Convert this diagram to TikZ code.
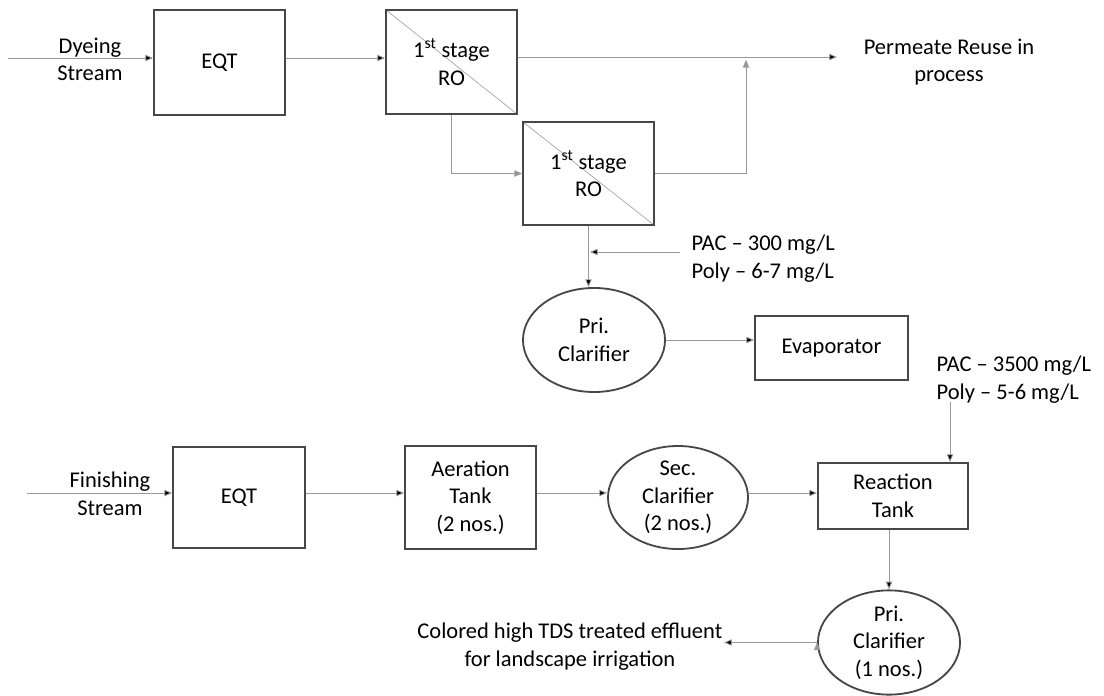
\documentclass[tikz,border=0pt]{standalone}
\usepackage{fontspec}
\setmainfont{Carlito}
\usetikzlibrary{arrows.meta,shapes.geometric}

\begin{document}
\begin{tikzpicture}[x=0.025cm,y=-0.025cm,->,>={Triangle[length=5.5pt,width=4.5pt]},
    every node/.style={font=\fontsize{16}{19.6}\selectfont,align=center,inner sep=1pt},
    unit/.style={rectangle,draw=black!72,line width=1.3pt},
    ro/.style={unit,path picture={\draw[-,black!35,line width=0.5pt] (path picture bounding box.north west) -- (path picture bounding box.south east);}},
    tank/.style={ellipse,draw=black!72,line width=1.3pt,inner sep=0pt},
    flow/.style={draw=black!40,line width=0.6pt}]
  \useasboundingbox (0,0) rectangle (1104,696);
  \node [unit,minimum width=3.275cm,minimum height=2.625cm] (eqt1) at (219.5,62.5) {EQT};
  \node [ro,minimum width=3.275cm,minimum height=2.6cm] (ro1) at (451.5,62) {1\textsuperscript{st} stage\\RO};
  \node [ro,minimum width=3.275cm,minimum height=2.575cm] (ro2) at (588.5,173.5) {1\textsuperscript{st} stage\\RO};
  \node [tank,minimum width=3.55cm,minimum height=2.6cm] (pri1) at (594,340) {Pri.\\Clarifier};
  \node [unit,minimum width=3.825cm,minimum height=1.6cm] (evap) at (831.5,348) {Evaporator};
  \node [unit,minimum width=3.3cm,minimum height=2.525cm] (eqt2) at (239,497.5) {EQT};
  \node [unit,minimum width=3.275cm,minimum height=2.575cm] (aer) at (470.5,497.5) {Aeration\\Tank\\(2 nos.)};
  \node [tank,minimum width=3.5cm,minimum height=2.525cm] (sec) at (678,497.5) {Sec.\\Clarifier\\(2 nos.)};
  \node [unit,minimum width=3.75cm,minimum height=1.65cm] (react) at (893,496) {Reaction\\Tank};
  \node [tank,minimum width=3.55cm,minimum height=2.525cm] (pri2) at (889,642.5) {Pri.\\Clarifier\\(1 nos.)};
  \node (dyeing) at (90,59.5) {Dyeing\\Stream};
  \node (permeate) at (949,62) {Permeate Reuse in\\process};
  \node [anchor=west,align=left] (pac1) at (690,258.5) {PAC -- 300 mg/L\\Poly -- 6-7 mg/L};
  \node [anchor=west,align=left] (pac2) at (935,379.5) {PAC -- 3500 mg/L\\Poly -- 5-6 mg/L};
  \node (finishing) at (110,493.5) {Finishing\\Stream};
  \node [anchor=east] (effluent) at (724,646.5) {Colored high TDS treated effluent\\for landscape irrigation};
  \coordinate (dyin) at (8,58);
  \coordinate (fin) at (27,493);
  \coordinate (permtip) at (837,57);
  \coordinate (join) at (746,57);
  \coordinate (dose1) at (680,252);
  \coordinate (dose2) at (950,402);
  \path [flow]
  (dyin) edge (dyin -| eqt1.west)
  (eqt1.east |- dyin) edge (ro1.west |- dyin)
  (ro1.east |- permtip) edge (permtip)
  (ro2.south) edge (ro2.south |- pri1.north)
  (dose1) edge [shorten >=1pt] (dose1 -| ro2.south)
  (pri1.east) edge (pri1.east -| evap.west)
  (dose2) edge (dose2 |- react.north)
  (fin) edge (fin -| eqt2.west)
  (eqt2.east |- fin) edge (aer.west |- fin)
  (aer.east |- fin) edge (sec.west |- fin)
  (sec.east |- fin) edge (react.west |- fin)
  (react.south -| pri2.north) edge (pri2.north)
  (pri2.west) edge (pri2.west -| effluent.east)
  ;
  \draw [flow] (ro1.south) |- (ro2.west);
  \draw [flow,shorten >=2pt] (ro2.east) -| (join);
\end{tikzpicture}
\end{document}
